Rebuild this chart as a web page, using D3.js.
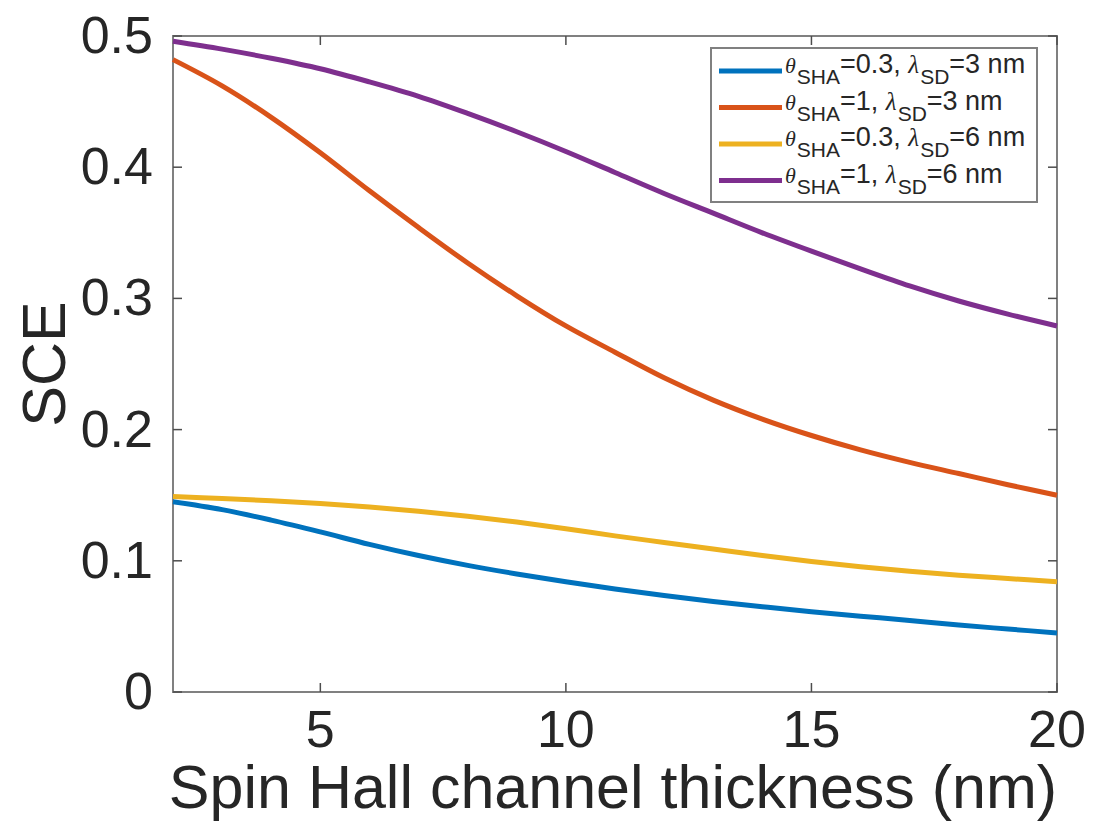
<!DOCTYPE html>
<html>
<head>
<meta charset="utf-8">
<script src="https://cdn.jsdelivr.net/npm/d3@7"></script>
<style>
  html, body { margin: 0; padding: 0; background: #fff; }
  svg { display: block; }
</style>
</head>
<body>
<svg id="chart" width="1093" height="822"></svg>
<script>
// ---- data ----
const thickness = [2,3,4,5,6,7,8,9,10,11,12,13,14,15,16,17,18,19,20];
const sceTheta03Lambda3 = [0.145,0.139,0.131,0.122,0.1125,0.104,0.0965,0.090,0.084,0.0785,0.0735,0.069,0.065,0.0612,0.0578,0.0545,0.051,0.048,0.045];
const sceTheta1Lambda3  = [0.482,0.462,0.438,0.411,0.382,0.354,0.327,0.302,0.279,0.259,0.2395,0.2225,0.208,0.1955,0.1845,0.175,0.1665,0.158,0.150];
const sceTheta03Lambda6 = [0.149,0.1475,0.1458,0.1437,0.141,0.1378,0.134,0.1295,0.1245,0.119,0.114,0.109,0.104,0.0995,0.0955,0.092,0.089,0.0865,0.084];
const sceTheta1Lambda6  = [0.496,0.490,0.483,0.475,0.465,0.454,0.441,0.427,0.412,0.396,0.380,0.365,0.350,0.336,0.3225,0.3095,0.298,0.288,0.279];
const seriesTheta = ["0.3","1","0.3","1"];
const seriesLambda = ["3","3","6","6"];
const seriesColors = ["#0072BD","#D95319","#EDB120","#7E2F8E"];
const xTicks = [5,10,15,20];
const yTicks = [0,0.1,0.2,0.3,0.4,0.5];
const xLabel = "Spin Hall channel thickness (nm)";
const yLabel = "SCE";

const seriesValues = [sceTheta03Lambda3, sceTheta1Lambda3, sceTheta03Lambda6, sceTheta1Lambda6];
const series = seriesValues.map((vals, i) => ({
  theta: seriesTheta[i], lambda: seriesLambda[i], color: seriesColors[i],
  points: thickness.map((t, j) => ({x: t, y: vals[j]}))
}));

// ---- layout ----
const L = 173, R = 1057, T = 36, B = 692;
const svg = d3.select("#chart");
const x = d3.scaleLinear().domain([2, 20]).range([L, R]);
const y = d3.scaleLinear().domain([0, 0.5]).range([B, T]);

const axisColor = "#808080";
const tickColor = "#4d4d4d";
const textColor = "#262626";
const fontFam = "'Liberation Sans', Arial, Helvetica, sans-serif";
const serifFam = "'Liberation Serif', 'DejaVu Serif', serif";

// box lines
svg.append("rect").attr("x", L).attr("y", T).attr("width", R - L).attr("height", B - T)
  .attr("fill", "none").attr("stroke", axisColor).attr("stroke-width", 2);

// ticks (inward, on all four sides)
const tickLen = 9;
const g = svg.append("g");
xTicks.forEach(t => {
  g.append("line").attr("x1", x(t)).attr("x2", x(t)).attr("y1", B).attr("y2", B - tickLen)
    .attr("stroke", tickColor).attr("stroke-width", 1.5);
  g.append("line").attr("x1", x(t)).attr("x2", x(t)).attr("y1", T).attr("y2", T + tickLen)
    .attr("stroke", tickColor).attr("stroke-width", 1.5);
});
yTicks.forEach(t => {
  g.append("line").attr("x1", L).attr("x2", L + tickLen).attr("y1", y(t)).attr("y2", y(t))
    .attr("stroke", tickColor).attr("stroke-width", 1.5);
  g.append("line").attr("x1", R).attr("x2", R - tickLen).attr("y1", y(t)).attr("y2", y(t))
    .attr("stroke", tickColor).attr("stroke-width", 1.5);
});

// tick labels
svg.append("g").selectAll("text").data(xTicks).join("text")
  .attr("x", d => x(d)).attr("y", B + 55)
  .attr("text-anchor", "middle")
  .attr("font-family", fontFam).attr("font-size", 52).attr("fill", textColor)
  .text(d => d3.format("d")(d));
svg.append("g").selectAll("text").data(yTicks).join("text")
  .attr("x", L - 20).attr("y", d => y(d) + 17)
  .attr("text-anchor", "end")
  .attr("font-family", fontFam).attr("font-size", 52).attr("fill", textColor)
  .text(d => d === 0 ? "0" : d3.format(".1f")(d));

// axis labels
svg.append("text").attr("x", (L + R) / 2 - 2).attr("y", 808)
  .attr("text-anchor", "middle").attr("font-family", fontFam).attr("font-size", 61)
  .attr("fill", textColor).text(xLabel);
svg.append("text").attr("transform", `translate(65,${(T + B) / 2}) rotate(-90)`)
  .attr("text-anchor", "middle").attr("font-family", fontFam).attr("font-size", 61)
  .attr("fill", textColor).text(yLabel);

// lines
const line = d3.line().x(d => x(d.x)).y(d => y(d.y)).curve(d3.curveCatmullRom.alpha(0.5));
svg.append("g").selectAll("path").data(series).join("path")
  .attr("d", d => line(d.points))
  .attr("fill", "none").attr("stroke", d => d.color).attr("stroke-width", 5)
  .attr("stroke-linejoin", "round");

// legend
const lg = svg.append("g");
lg.append("rect").attr("x", 711).attr("y", 48).attr("width", 326).attr("height", 154)
  .attr("fill", "#fff").attr("stroke", axisColor).attr("stroke-width", 2);
const rowY = [71, 107.5, 144, 180.5];
series.forEach((s, i) => {
  const ry = rowY[i];
  lg.append("line").attr("x1", 719).attr("x2", 782).attr("y1", ry).attr("y2", ry)
    .attr("stroke", s.color).attr("stroke-width", 5);
  const t = lg.append("text").attr("x", 785).attr("y", ry + 2)
    .attr("font-family", fontFam).attr("font-size", 27).attr("fill", textColor);
  t.append("tspan").attr("font-family", serifFam)
    .attr("font-style", "italic").attr("font-size", 22).text("θ");
  t.append("tspan").attr("dx", 1).attr("dy", 11).attr("font-size", 21).text("SHA");
  t.append("tspan").attr("dy", -11).text("=" + s.theta + ", ");
  t.append("tspan").attr("font-family", serifFam)
    .attr("font-style", "italic").attr("font-size", 25).text("λ");
  t.append("tspan").attr("dx", 1).attr("dy", 11).attr("font-size", 21).text("SD");
  t.append("tspan").attr("dy", -11).text("=" + s.lambda + " nm");
});
</script>
</body>
</html>
